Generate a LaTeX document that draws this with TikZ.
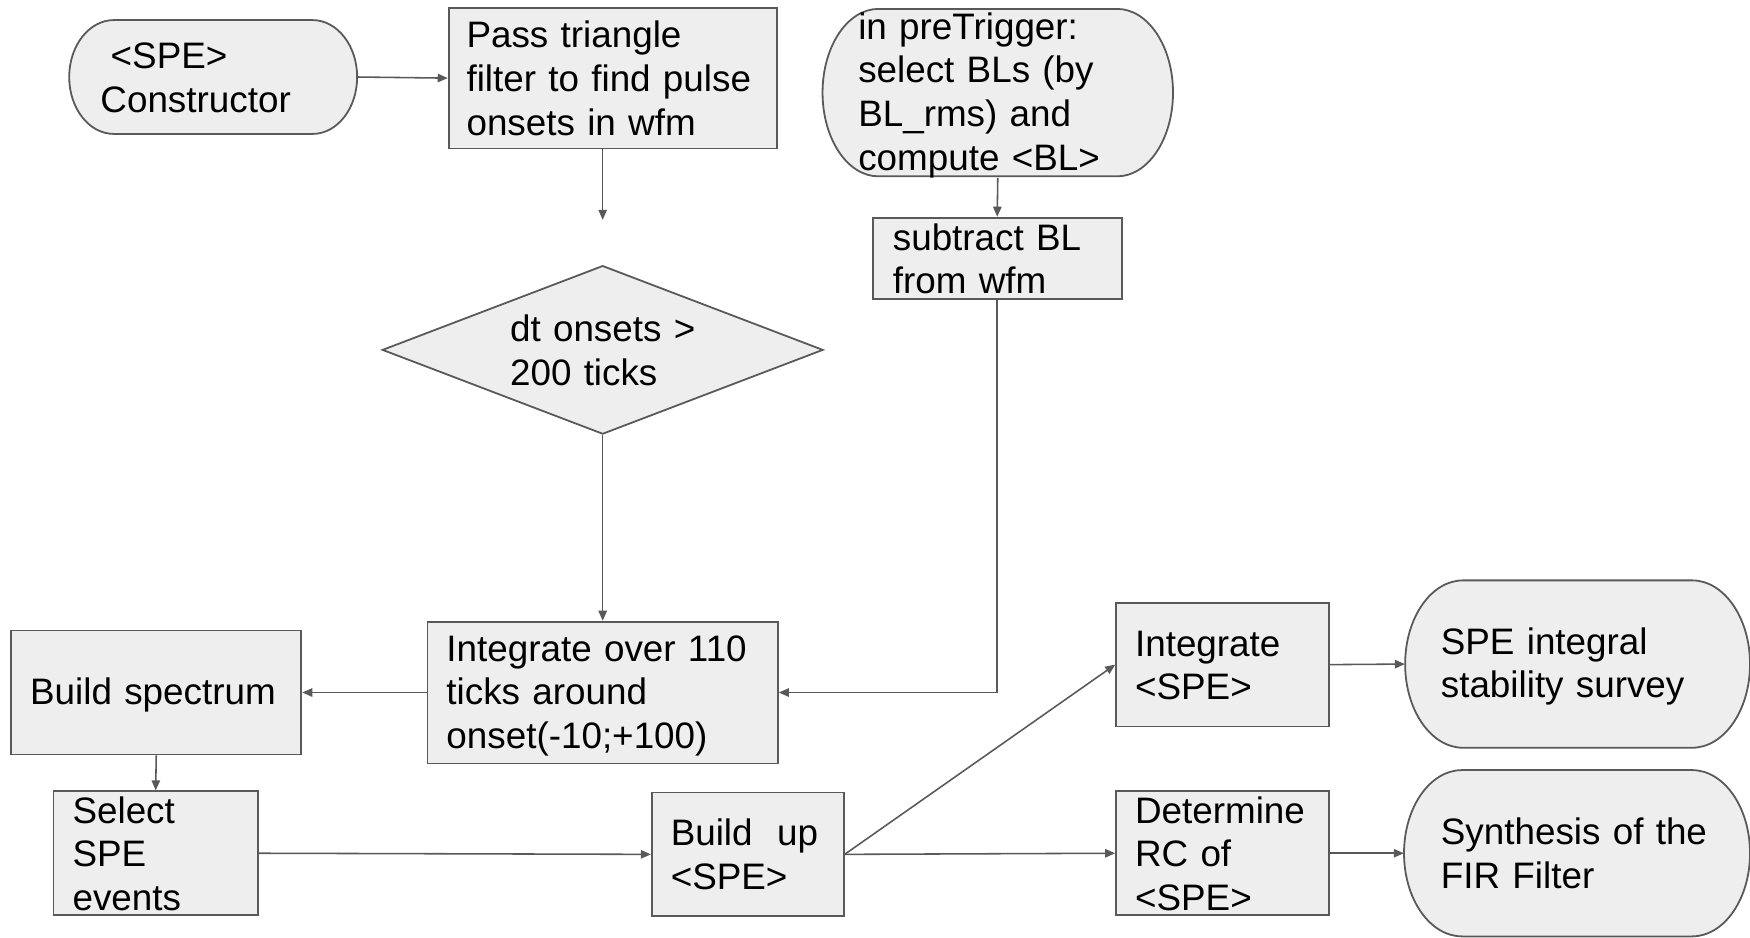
\documentclass[tikz,border=0pt]{standalone}
\usepackage{fontspec}
\setmainfont{Liberation Sans}
\usetikzlibrary{shapes.geometric,arrows.meta}
\definecolor{boxfill}{HTML}{EEEEEE}
\definecolor{linegray}{HTML}{595959}
\newcommand\diagfont{\fontsize{33}{39}\selectfont}
\newcommand\lnstrutA{\rule{0pt}{28.5pt}}
\newcommand\lnstrutB{\rule[-4.5pt]{0pt}{4.5pt}}
\tikzset{
  shapeline/.style={draw=linegray, line width=1.6pt, fill=boxfill},
  linetext/.style={align=left, font=\diagfont, inner sep=0pt,
    execute at begin node={\lnstrutA}, execute at end node={\lnstrutB}},
  procbox/.style={shapeline, rectangle, linetext},
  termtext/.style={linetext},
  decbox/.style={shapeline, diamond, linetext},
  conn/.style={draw=linegray, line width=1.4pt, -{Triangle[length=9pt,width=7.5pt]}}
}
% process box: name, x1, y1, x2, y2, left pad, text
\newcommand\procnode[7]{%
  \pgfmathsetmacro\pnW{#4-#2}%
  \pgfmathsetmacro\pnH{#5-#3}%
  \pgfmathsetmacro\pnX{(#2+#4)/2}%
  \pgfmathsetmacro\pnY{(#3+#5)/2}%
  \pgfmathsetmacro\pnT{#4-#2-2*#6}%
  \node[procbox, minimum width=\pnW pt, minimum height=\pnH pt, text width=\pnT pt] (#1) at (\pnX,\pnY) {#7};
}
% terminator: name, x1, y1, x2, y2, rx, left pad, text
\newcommand\termnode[8]{%
  \pgfmathsetmacro\tnA{#2+#6}%
  \pgfmathsetmacro\tnB{#4-#6}%
  \pgfmathsetmacro\tnC{#2+0.4477*#6}%
  \pgfmathsetmacro\tnD{#4-0.4477*#6}%
  \pgfmathsetmacro\tnM{(#3+#5)/2}%
  \pgfmathsetmacro\tnR{0.5523*(#5-#3)/2}%
  \pgfmathsetmacro\tnU{\tnM-\tnR}%
  \pgfmathsetmacro\tnV{\tnM+\tnR}%
  \path[shapeline] (\tnA,#3) -- (\tnB,#3)
    .. controls (\tnD,#3) and (#4,\tnU) .. (#4,\tnM)
    .. controls (#4,\tnV) and (\tnD,#5) .. (\tnB,#5)
    -- (\tnA,#5)
    .. controls (\tnC,#5) and (#2,\tnV) .. (#2,\tnM)
    .. controls (#2,\tnU) and (\tnC,#3) .. (\tnA,#3) -- cycle;
  \pgfmathsetmacro\tnW{#4-#2}%
  \pgfmathsetmacro\tnH{#5-#3}%
  \pgfmathsetmacro\tnX{(#2+#4)/2}%
  \pgfmathsetmacro\tnT{#4-#2-2*#7}%
  \node[termtext, minimum width=\tnW pt, minimum height=\tnH pt, text width=\tnT pt] (#1) at (\tnX,\tnM) {#8};
}
\begin{document}
\begin{tikzpicture}[x=1pt,y=-1pt]
\useasboundingbox (0,0) rectangle (1568,840);
\fill[white] (0,0) rectangle (1568,840);

\termnode{con}{62}{18}{320}{120}{40}{28}{\hspace*{0.278em}<SPE>\\Constructor}
\procnode{pass}{402}{7}{696}{133}{16}{Pass triangle\\filter to find pulse\\onsets in wfm}
\termnode{pre}{737}{8}{1051}{158}{50}{32}{in preTrigger:\\select BLs (by\\BL\_rms) and\\compute <BL>}
\procnode{sub}{782}{195}{1005}{268}{18}{subtract BL\\from wfm}
\node[decbox, shape aspect=2.616, minimum width=395pt, minimum height=151pt, text width=166pt] (dia) at (540,313.5) {\mbox{dt onsets >}\\200 ticks};
\procnode{int}{383}{557}{697}{684}{17}{Integrate over 110\\ticks around\\onset(-10;+100)}
\procnode{bs}{10}{565}{270}{676}{17}{Build spectrum}
\procnode{sel}{48}{709}{231}{820}{17}{Select\\SPE\\events}
\procnode{bu}{584}{710}{756}{821}{17}{Build\ \ up\\<SPE>}
\procnode{ispe}{1000}{540}{1191}{651}{17}{Integrate\\<SPE>}
\procnode{det}{1000}{709}{1191}{820}{17}{Determine\\RC of\\<SPE>}
\termnode{spi}{1259}{520}{1568}{670}{52}{32}{SPE integral\\stability survey}
\termnode{syn}{1258}{690}{1568}{839}{52}{33}{Synthesis of the\\FIR Filter}

\coordinate (passend) at (540,197);
\draw[conn] (con.east) -- (pass.west);
\draw[conn] (pass.south -| passend) -- (passend);
\draw[conn] (dia.south) -- (int.north);
\draw[conn] (pre.south) -- (sub.north);
\draw[conn] (sub.south) |- (int.east);
\draw[conn] (int.west) -- (bs.east);
\draw[conn] (bs.south) -- (sel.north);
\draw[conn] (sel.east) -- (bu.west);
\draw[conn] (bu.east) -- (ispe.west);
\draw[conn] (bu.east) -- (det.west);
\draw[conn] (ispe.east) -- (spi.west);
\draw[conn] (det.east) -- (syn.west);
\end{tikzpicture}
\end{document}
